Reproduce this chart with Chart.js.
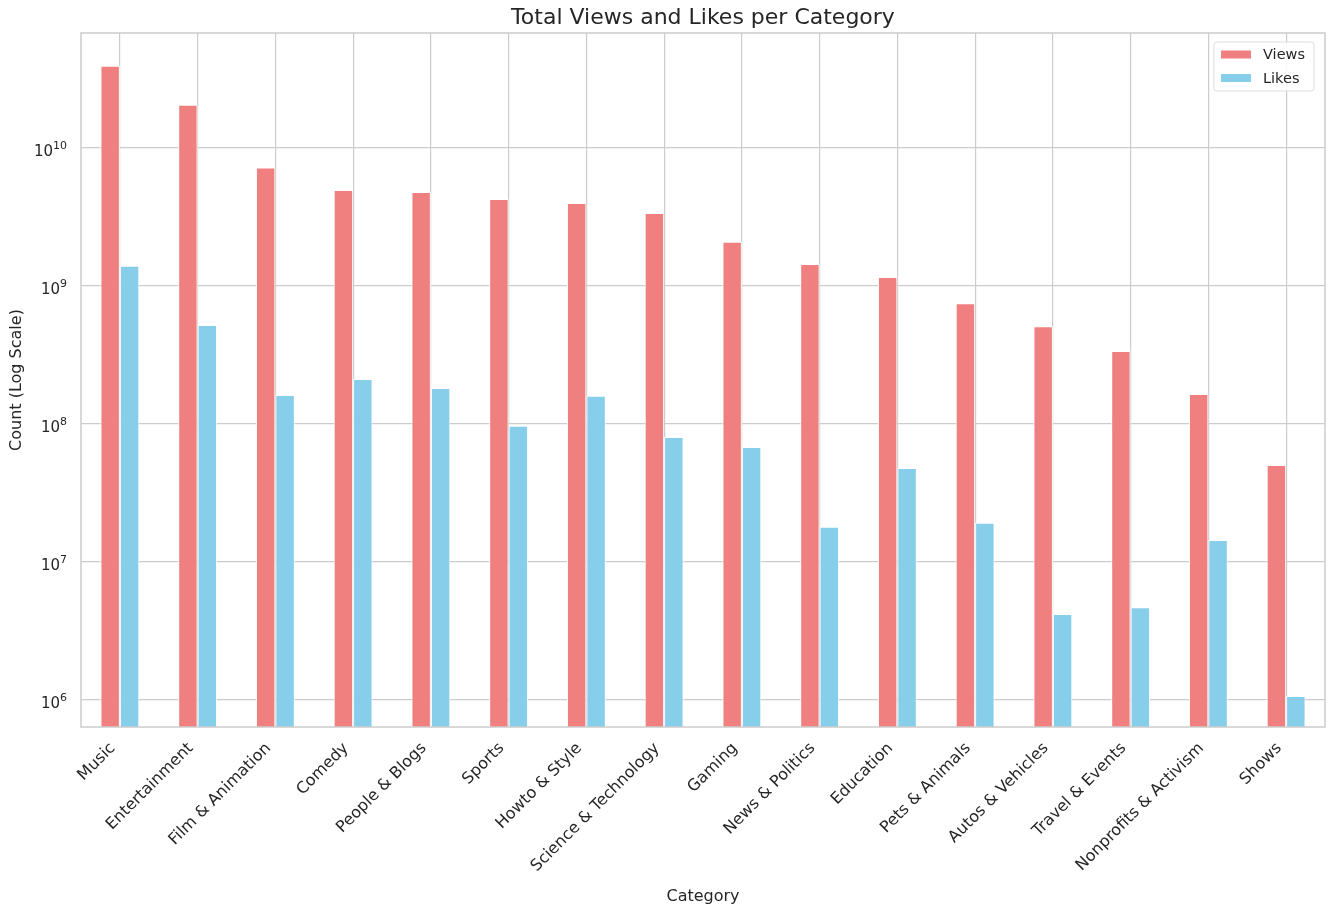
<!DOCTYPE html>
<html>
<head>
<meta charset="utf-8">
<script src="https://cdn.jsdelivr.net/npm/chart.js@4.4.1/dist/chart.umd.min.js"></script>
<style>
  html, body { margin: 0; padding: 0; background: #fff; }
  #wrap { width: 1331px; height: 914px; }
</style>
</head>
<body>
<div id="wrap"><canvas id="chart" width="1331" height="914"></canvas></div>
<script>
const categories = ['Music', 'Entertainment', 'Film & Animation', 'Comedy', 'People & Blogs', 'Sports',
  'Howto & Style', 'Science & Technology', 'Gaming', 'News & Politics', 'Education', 'Pets & Animals',
  'Autos & Vehicles', 'Travel & Events', 'Nonprofits & Activism', 'Shows'];
const views = [3.93e10, 2.05e10, 7.2e9, 4.96e9, 4.8e9, 4.26e9, 3.99e9, 3.38e9, 2.09e9, 1.44e9,
  1.16e9, 7.5e8, 5.1e8, 3.38e8, 1.65e8, 5.05e7];
const likes = [1.40e9, 5.2e8, 1.62e8, 2.12e8, 1.82e8, 9.7e7, 1.6e8, 8.05e7, 6.8e7, 1.8e7,
  4.8e7, 1.92e7, 4.2e6, 4.7e6, 1.44e7, 1.07e6];
const yTicks = [1e6, 1e7, 1e8, 1e9, 1e10];

const FONT = "'DejaVu Sans', sans-serif";
const TEXT = '#262626';
const GRID = '#cccccc';

// title, frame, power-of-ten tick labels and legend box drawn on the canvas
const decor = {
  id: 'decor',
  afterDraw(chart) {
    const { ctx, chartArea: a } = chart;
    const y = chart.scales.y;
    ctx.save();
    ctx.strokeStyle = GRID;
    ctx.lineWidth = 1.5;
    ctx.strokeRect(a.left, a.top, a.right - a.left, a.bottom - a.top);

    ctx.fillStyle = TEXT;
    ctx.font = '22px ' + FONT;
    ctx.textAlign = 'center';
    ctx.textBaseline = 'middle';
    ctx.fillText('Total Views and Likes per Category', (a.left + a.right) / 2, 18);

    // y tick labels as 10 with a raised exponent
    ctx.textBaseline = 'alphabetic';
    ctx.textAlign = 'left';
    y.ticks.forEach(t => {
      const py = y.getPixelForValue(t.value);
      const exp = String(Math.round(Math.log10(t.value)));
      ctx.font = '11px ' + FONT;
      const ew = ctx.measureText(exp).width;
      ctx.font = '15px ' + FONT;
      const bw = ctx.measureText('10').width;
      const right = a.left - 14;
      ctx.fillText('10', right - ew - bw, py + 8);
      ctx.font = '11px ' + FONT;
      ctx.fillText(exp, right - ew, py + 1);
    });

    // legend
    const bx = a.right - 111, by = a.top + 9, bw = 100, bh = 49;
    ctx.fillStyle = 'rgba(255,255,255,0.85)';
    ctx.strokeStyle = '#dddddd';
    ctx.lineWidth = 1;
    ctx.beginPath();
    ctx.roundRect(bx, by, bw, bh, 3);
    ctx.fill();
    ctx.stroke();
    ctx.textBaseline = 'middle';
    chart.data.datasets.forEach((ds, i) => {
      const cy = by + 12.5 + i * 23.5;
      ctx.fillStyle = ds.backgroundColor;
      ctx.fillRect(bx + 7, cy - 4, 30, 8);
      ctx.fillStyle = TEXT;
      ctx.font = '14.5px ' + FONT;
      ctx.textAlign = 'left';
      ctx.fillText(ds.label, bx + 49, cy + 1);
    });
    ctx.restore();
  }
};

new Chart(document.getElementById('chart'), {
  type: 'bar',
  data: {
    labels: categories,
    datasets: [
      { label: 'Views', data: views, backgroundColor: '#F08080', borderColor: '#ffffff', borderWidth: 1 },
      { label: 'Likes', data: likes, backgroundColor: '#87CEEB', borderColor: '#ffffff', borderWidth: 1 },
    ],
  },
  options: {
    responsive: false,
    animation: false,
    devicePixelRatio: 1,
    layout: { padding: { top: 33, right: 6, left: 0, bottom: 0 } },
    datasets: { bar: { categoryPercentage: 0.5, barPercentage: 1.0 } },
    plugins: { legend: { display: false }, title: { display: false }, tooltip: { enabled: false } },
    scales: {
      x: {
        offset: true,
        grid: { offset: false, color: GRID, lineWidth: 1.2, drawTicks: false },
        border: { display: false },
        ticks: { color: TEXT, font: { family: FONT, size: 16 }, minRotation: 45, maxRotation: 45, padding: 12, labelOffset: -7, autoSkip: false },
        title: { display: true, text: 'Category', color: TEXT, font: { family: FONT, size: 16 }, padding: { top: 0, bottom: 8 } },
        afterFit(s) { s.height = 187; },
      },
      y: {
        type: 'logarithmic',
        min: 6.37e5,
        max: 6.8e10,
        grid: { color: GRID, lineWidth: 1.2, drawTicks: false },
        border: { display: false },
        afterBuildTicks(s) { s.ticks = yTicks.map(v => ({ value: v })); },
        ticks: { display: false },
        title: { display: true, text: 'Count (Log Scale)', color: TEXT, font: { family: FONT, size: 16 }, padding: { top: 7, bottom: 0 } },
        afterFit(s) { s.width = 81; },
      },
    },
  },
  plugins: [decor],
});
</script>
</body>
</html>
